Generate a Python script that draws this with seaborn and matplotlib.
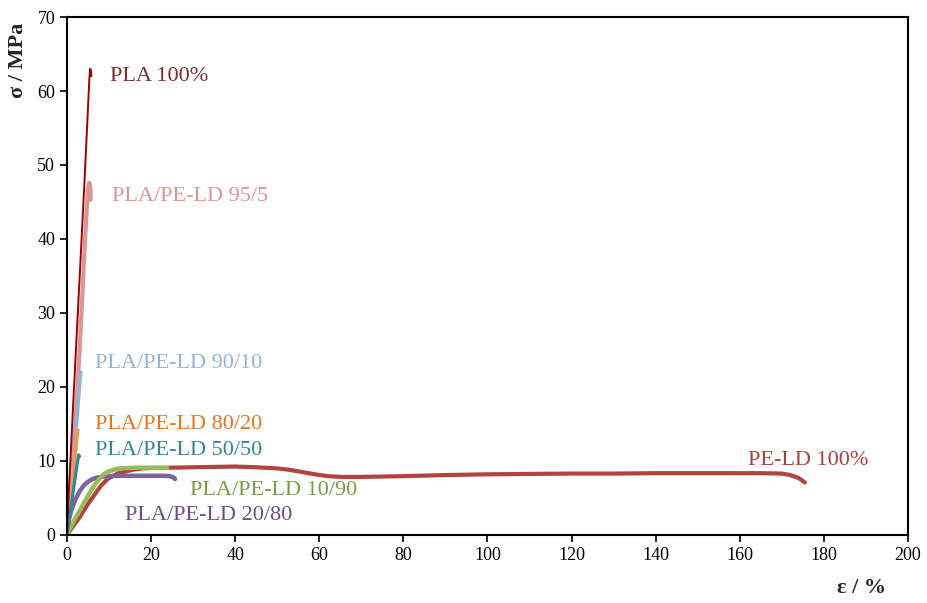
import matplotlib
matplotlib.use("Agg")
import matplotlib.pyplot as plt
import seaborn as sns
import pandas as pd

# ---- data ----
pla100_x = [0, 0.35, 0.8, 1.5, 2.3, 3.2, 4.0, 4.6, 5.05, 5.3, 5.5, 5.7, 5.8]
pla100_y = [0, 5, 10, 18, 27, 37, 46, 53, 58.5, 61.5, 63.0, 62.8, 62.0]

b95_x = [0, 0.6, 1.35, 2.2, 3.0, 3.7, 4.3, 4.75, 5.05, 5.3, 5.5, 5.6, 5.6]
b95_y = [0, 4.5, 10, 17, 25, 33, 40, 44.5, 47, 47.6, 47.3, 46.3, 45.3]

b90_x = [0, 1.0, 1.9, 2.6, 3.1, 3.3]
b90_y = [0, 6, 12, 17.5, 21, 22]

b80_x = [0, 0.8, 1.5, 2.1, 2.45, 2.6]
b80_y = [0, 4, 8, 11.5, 13.5, 14.2]

b50_x = [0, 0.8, 1.5, 2.1, 2.5, 2.8, 2.95]
b50_y = [0, 3.2, 6.0, 8.4, 9.9, 10.8, 10.6]

b10_x = [0, 1, 2, 3, 4, 5, 6, 7, 8, 9, 10, 11, 12, 14, 17, 20, 23.8]
b10_y = [0, 1.2, 2.3, 3.3, 4.3, 5.3, 6.3, 7.1, 7.8, 8.3, 8.6, 8.8, 8.95, 9.05, 9.1, 9.1, 9.05]

b20_x = [0, 0.5, 1, 2, 3, 4, 5, 6, 7, 8, 10, 13, 16, 20, 23, 24.5, 25.3, 25.7]
b20_y = [0, 2.2, 3.3, 4.8, 5.9, 6.7, 7.2, 7.55, 7.75, 7.85, 7.95, 8.0, 8.0, 8.0, 8.0, 7.95, 7.8, 7.55]

pe_x = [0, 1, 2, 3, 4, 5, 6, 7, 8, 9, 10, 12, 14, 16, 18, 20, 25, 30, 35, 40, 45, 50, 53,
        56, 59, 62, 65, 70, 80, 90, 100, 110, 120, 130, 140, 150, 160, 165, 170, 172, 174, 175.5]
pe_y = [0, 0.8, 1.6, 2.4, 3.3, 4.2, 5.0, 5.8, 6.6, 7.2, 7.7, 8.3, 8.6, 8.85, 9.0, 9.05, 9.1, 9.15, 9.2, 9.25,
        9.15, 9.0, 8.8, 8.5, 8.2, 7.95, 7.85, 7.85, 7.95, 8.1, 8.2, 8.25, 8.3, 8.3, 8.35, 8.35, 8.35, 8.35,
        8.3, 8.1, 7.7, 7.1]

labels = ["PLA 100%", "PLA/PE-LD 95/5", "PLA/PE-LD 90/10", "PLA/PE-LD 80/20",
          "PLA/PE-LD 50/50", "PLA/PE-LD 10/90", "PLA/PE-LD 20/80", "PE-LD 100%"]

# ---- styling ----
line_colors = ["#A00000", "#D99694", "#95B3D7", "#F79646", "#31869B", "#9BBB59", "#8064A2", "#B3433F"]
text_colors = ["#7B2C2C", "#D99694", "#95B3D7", "#E8741E", "#31869B", "#7F9A45", "#6A5088", "#A8403C"]
widths = [1.4, 3.0, 2.6, 2.3, 2.3, 3.2, 3.2, 3.0]
label_pos = [(10.2, 61.9), (10.7, 45.7), (6.7, 23.2), (6.7, 14.9), (6.7, 11.35),
             (29.3, 5.95), (13.8, 2.6), (162.0, 10.0)]

sns.set_theme(style="white")
plt.rcParams["font.family"] = ["Liberation Serif", "DejaVu Serif"]

fig = plt.figure(figsize=(9.28, 6.03), dpi=100)
ax = fig.add_axes([0.0722, 0.1128, 0.9062, 0.859])

series = [(pe_x, pe_y, 7), (b20_x, b20_y, 6), (b10_x, b10_y, 5), (b95_x, b95_y, 1),
          (b90_x, b90_y, 2), (b80_x, b80_y, 3), (b50_x, b50_y, 4), (pla100_x, pla100_y, 0)]
for xs, ys, i in series:
    df = pd.DataFrame({"x": xs, "y": ys})
    sns.lineplot(data=df, x="x", y="y", sort=False, estimator=None, ax=ax,
                 color=line_colors[i], linewidth=widths[i], solid_capstyle="round",
                 solid_joinstyle="round")

for i, lab in enumerate(labels):
    ax.text(label_pos[i][0], label_pos[i][1], lab, color=text_colors[i],
            fontsize=16, va="center", ha="left")

ax.set_xlim(0, 200)
ax.set_ylim(0, 70)
ax.set_xticks(range(0, 201, 20))
ax.set_yticks(range(0, 71, 10))
ax.set_xlabel("")
ax.set_ylabel("")
ax.tick_params(axis="both", which="both", direction="out", length=5, width=1.2,
               labelsize=13, colors="black", bottom=True, left=True, top=False, right=False)
for s in ax.spines.values():
    s.set_visible(True)
    s.set_color("black")
    s.set_linewidth(1.5)

fig.text(18 / 928, 1 - 60 / 603, "σ / MPa", rotation=90, ha="center", va="center",
         fontsize=16, fontweight="bold")
fig.text(862 / 928, 1 - 588 / 603, "ε / %", ha="center", va="center",
         fontsize=16, fontweight="bold")

fig.savefig("out.png", dpi=100, facecolor="white")
